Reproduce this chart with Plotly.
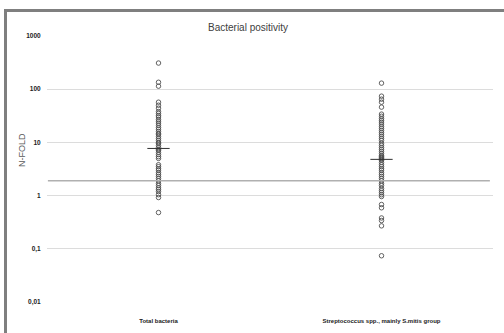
import plotly.graph_objects as go

categories = ["Total bacteria", "Streptococcus spp., mainly S.mitis group"]

total_bacteria = [310, 135, 114, 57, 50, 44, 38, 35, 32, 30, 27, 25, 23, 21, 19, 17.6,
                  16.1, 14.8, 14.2, 13, 11.9, 10.9, 10, 9.6, 8.8, 8.0, 7.4, 7.1, 6.5,
                  5.9, 5.4, 5.0, 3.8, 3.5, 3.2, 3.0, 2.7, 2.5, 2.3, 2.1, 1.9, 1.7, 1.55,
                  1.4, 1.3, 1.19, 1.04, 0.92, 0.48]

streptococcus = [130, 74, 65, 57, 46, 34, 31, 28, 26, 24, 22, 20, 18.4, 16.8, 15.4, 14.2,
                 13, 11.9, 10.9, 9.6, 8.8, 8.0, 7.4, 6.8, 6.2, 5.7, 5.4, 5.2, 5.0, 4.8,
                 4.6, 4.2, 3.8, 3.5, 3.2, 3.0, 2.7, 2.5, 2.3, 2.1, 1.9, 1.7, 1.55, 1.36,
                 1.24, 1.14, 1.04, 0.96, 0.68, 0.59, 0.38, 0.34, 0.27, 0.074]

medians = [7.7, 4.8]
threshold = 1.9

y_tickvals = [0.01, 0.1, 1, 10, 100, 1000]
y_ticktext = ["0,01", "0,1", "1", "10", "100", "1000"]

series = [total_bacteria, streptococcus]

fig = go.Figure()
for i, vals in enumerate(series):
    fig.add_trace(go.Scatter(
        x=[i] * len(vals), y=vals, mode="markers",
        marker=dict(symbol="circle-open", size=4.5, color="#505050", line=dict(width=0.9)),
        showlegend=False, hoverinfo="y"))

shapes = []
for i, m in enumerate(medians):
    shapes.append(dict(type="line", xref="x", yref="y", x0=i - 0.05, x1=i + 0.05,
                       y0=m, y1=m, line=dict(color="#303030", width=1)))
shapes.append(dict(type="line", xref="paper", yref="y", x0=0.002, x1=0.993,
                   y0=threshold, y1=threshold, line=dict(color="#b0b0b0", width=1.5)))
# outer frame (gray border at top/left), in pixels converted to paper fractions
plot_w = 504 - 47 - 11
plot_h = 333 - 36 - 31
def px_x(p):
    return (p - 47) / plot_w
def px_y(p):
    return (333 - 31 - p) / plot_h
shapes.append(dict(type="rect", xref="paper", yref="paper",
                   x0=px_x(4), x1=px_x(7), y0=px_y(333), y1=px_y(9),
                   fillcolor="#7f7f7f", line=dict(width=0), layer="above"))
shapes.append(dict(type="rect", xref="paper", yref="paper",
                   x0=px_x(4), x1=px_x(504), y0=px_y(12), y1=px_y(9),
                   fillcolor="#7f7f7f", line=dict(width=0), layer="above"))

fig.update_layout(
    width=504, height=333,
    margin=dict(l=47, r=11, t=36, b=31, autoexpand=False),
    paper_bgcolor="white", plot_bgcolor="white",
    font=dict(family="Liberation Sans, Arial, sans-serif"),
    title=dict(text="Bacterial positivity", x=248 / 504, xanchor="center",
               y=1 - 27 / 333, yanchor="middle", automargin=False,
               font=dict(size=10, color="#404040")),
    shapes=shapes,
    annotations=[dict(text="N-FOLD", xref="paper", yref="paper",
                      x=px_x(22), y=px_y(150), textangle=-90, showarrow=False,
                      xanchor="center", yanchor="middle",
                      font=dict(size=9, color="#595959"))],
    xaxis=dict(
        range=[-0.5, 1.5], tickvals=[0, 1], ticktext=categories,
        showgrid=False, zeroline=False, showline=False, automargin=False,
        ticks="outside", ticklen=13, tickcolor="rgba(0,0,0,0)",
        tickfont=dict(size=6, color="#222222", weight="bold"),
    ),
    yaxis=dict(
        type="log", range=[-2, 3], automargin=False,
        tickvals=y_tickvals, ticktext=y_ticktext,
        showgrid=True, gridcolor="#dcdcdc", gridwidth=1,
        zeroline=False, showline=False,
        ticks="outside", ticklen=4, tickcolor="rgba(0,0,0,0)",
        tickfont=dict(size=6.5, color="#222222", weight="bold"),
    ),
)

fig.write_html("out.html", config={"displayModeBar": False},
               post_script="document.body.style.margin='0';")
